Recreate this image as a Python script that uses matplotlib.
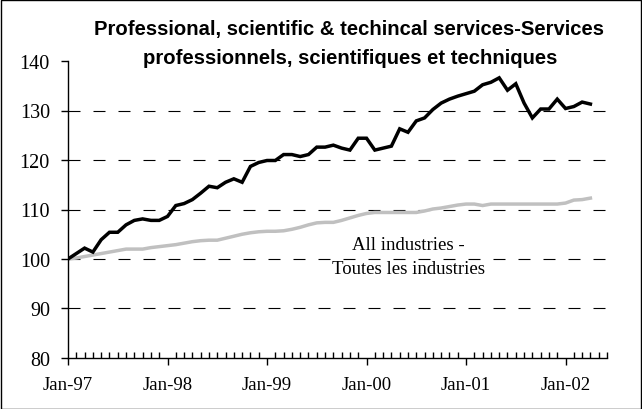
import matplotlib
matplotlib.use("Agg")
import matplotlib.pyplot as plt
from matplotlib.patches import Rectangle
from matplotlib.ticker import FixedLocator

# ---- data ----
professional = [100.0, 101.1, 102.2, 101.4, 103.9, 105.4, 105.4, 106.9, 107.8, 108.1,
                107.8, 107.8, 108.6, 110.8, 111.2, 112.0, 113.3, 114.7, 114.4, 115.5,
                116.2, 115.5, 118.7, 119.5, 119.9, 119.9, 121.1, 121.1, 120.7, 121.1,
                122.6, 122.6, 123.0, 122.4, 122.0, 124.4, 124.4, 122.0, 122.4, 122.8,
                126.3, 125.6, 127.9, 128.5, 130.2, 131.5, 132.3, 132.9, 133.4, 133.9,
                135.2, 135.7, 136.6, 134.1, 135.4, 131.5, 128.5, 130.3, 130.3, 132.3,
                130.4, 130.8, 131.7, 131.3]
all_industries = [100.0, 100.2, 100.5, 100.8, 101.1, 101.4, 101.7, 102.0, 102.0, 102.0,
                  102.3, 102.5, 102.7, 102.9, 103.2, 103.5, 103.7, 103.8, 103.8, 104.2,
                  104.6, 105.0, 105.3, 105.5, 105.6, 105.6, 105.7, 106.0, 106.4, 106.9,
                  107.3, 107.4, 107.4, 107.8, 108.3, 108.8, 109.2, 109.4, 109.4, 109.4,
                  109.4, 109.4, 109.4, 109.7, 110.1, 110.3, 110.6, 110.9, 111.1, 111.1,
                  110.8, 111.1, 111.1, 111.1, 111.1, 111.1, 111.1, 111.1, 111.1, 111.1,
                  111.3, 111.9, 112.0, 112.3]
year_labels = ["Jan-97", "Jan-98", "Jan-99", "Jan-00", "Jan-01", "Jan-02"]
y_ticks = [80, 90, 100, 110, 120, 130, 140]
title_line1 = "Professional, scientific & techincal services-Services"
title_line2 = "professionnels, scientifiques et techniques"
annotation_line1 = "All industries -"
annotation_line2 = "Toutes les industries"

serif = "Liberation Serif"
sans = "Liberation Sans"

fig = plt.figure(figsize=(6.42, 4.10), dpi=100)
W, H = 642, 410
ax = fig.add_axes([68 / W, (H - 359) / H, (607 - 68) / W, (359 - 62) / H])

months = list(range(len(professional)))
ax.plot(months, all_industries, color="#c0c0c0", lw=2.5, solid_joinstyle="miter")
ax.plot(months, professional, color="black", lw=2.5, solid_joinstyle="miter")

ax.set_xlim(0, 65)
ax.set_ylim(80, 140)

for s in ["top", "right"]:
    ax.spines[s].set_visible(False)
for s in ["left", "bottom"]:
    ax.spines[s].set_linewidth(1.0)

ax.set_yticks(y_ticks)
ax.set_yticklabels([str(v) for v in y_ticks], fontfamily=serif, fontsize=14.5)
ax.tick_params(axis="y", direction="out", length=5, width=1, pad=8)

major = [12 * i for i in range(len(year_labels))]
ax.xaxis.set_major_locator(FixedLocator(major))
ax.set_xticklabels(year_labels, fontfamily=serif, fontsize=13.5)
minor = [m for m in range(0, 66) if m % 12 != 0]
ax.xaxis.set_minor_locator(FixedLocator(minor))
ax.tick_params(axis="x", which="major", direction="out", length=5, width=1, pad=8)
ax.tick_params(axis="x", which="minor", direction="in", length=4.5, width=1)

for v in y_ticks[1:-1]:
    ax.axhline(v, color="black", lw=0.8, dashes=(10.8, 11.7), zorder=0)

fig.text(408 / W, 1 - 246 / H, annotation_line1, fontfamily=serif, fontsize=13.5,
         ha="center", va="center")
fig.text(408 / W, 1 - 270 / H, annotation_line2, fontfamily=serif, fontsize=13.5,
         ha="center", va="center")

fig.text(349 / W, 1 - 30 / H, title_line1, fontfamily=sans, fontweight="bold",
         fontsize=14.6, ha="center", va="center")
fig.text(350 / W, 1 - 59 / H, title_line2, fontfamily=sans, fontweight="bold",
         fontsize=14.6, ha="center", va="center")

fig.patches.append(Rectangle((0.5 / W, 0.5 / H), 1 - 1.5 / W, 1 - 1.5 / H,
                             transform=fig.transFigure, fill=False,
                             edgecolor="black", lw=1.0))

fig.savefig("out.png", dpi=100)
